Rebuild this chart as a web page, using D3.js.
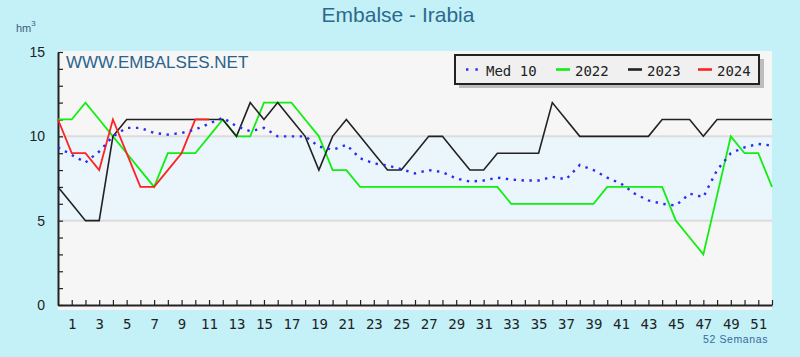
<!DOCTYPE html>
<html><head><meta charset="utf-8">
<script src="https://cdn.jsdelivr.net/npm/d3@7"></script>
<style>
html,body{margin:0;padding:0;background:#c4f0f7;}
svg{display:block;}
</style></head>
<body>
<svg id="chart" width="800" height="357"></svg>
<script>
// ---- data ----
const weeks = d3.range(0, 53);
const med10 = [9.35,8.9,8.45,9.1,10.0,10.5,10.5,10.2,10.1,10.2,10.4,10.75,11.1,10.6,10.3,10.5,10.0,10.0,10.0,9.4,9.2,9.5,8.7,8.4,8.27,8.05,7.8,8.0,7.88,7.5,7.32,7.38,7.55,7.44,7.38,7.38,7.6,7.45,8.3,8.0,7.55,7.2,6.6,6.2,6.0,5.9,6.6,6.4,8.0,9.0,9.35,9.55,9.45];
const s2022 = [11,11,12,11,10,9,8,7,9,9,9,10,11,10,10,12,12,12,11,10,8,8,7,7,7,7,7,7,7,7,7,7,7,6,6,6,6,6,6,6,7,7,7,7,7,5,4,3,6.5,10,9,9,7];
const s2023 = [7,6,5,5,10,11,11,11,11,11,11,11,11,10,12,11,12,11,10,8,10,11,10,9,8,8,9,10,10,9,8,8,9,9,9,9,12,11,10,10,10,10,10,10,11,11,11,10,11,11,11,11,11];
const s2024 = [11,9,9,8,11,9,7,7,8,9,11,11];
const yTicks = d3.range(0, 16);
const yLabels = [0, 5, 10, 15];
const xTicks = d3.range(1, 53);
const xLabels = d3.range(1, 52, 2);
const seriesNames = ["Med 10", "2022", "2023", "2024"];

const svg = d3.select("#chart");
const x = d3.scaleLinear().domain([0, 52]).range([58, 772]);
const y = d3.scaleLinear().domain([0, 15]).range([305, 52]);

// plot background
svg.append("rect").attr("x", x(0)).attr("y", y(15) - 1).attr("width", x(52) - x(0)).attr("height", y(0) - y(15) + 6).attr("fill", "#f6f6f6");
svg.append("rect").attr("x", x(0)).attr("y", y(10)).attr("width", x(52) - x(0)).attr("height", y(5) - y(10)).attr("fill", "#eaf5fc");
[5, 10].forEach(v => {
  svg.append("line").attr("x1", x(0)).attr("x2", x(52)).attr("y1", y(v)).attr("y2", y(v)).attr("stroke", "#dcdcdc").attr("stroke-width", 2);
});

// title & labels
svg.append("text").attr("x", 398).attr("y", 22).attr("text-anchor", "middle")
  .attr("font-family", "Liberation Sans, Arial, sans-serif").attr("font-size", 21).attr("fill", "#2b6a8c").text("Embalse - Irabia");
const hm = svg.append("text").attr("x", 16).attr("y", 32).attr("font-family", "Liberation Sans, Arial, sans-serif").attr("font-size", 11).attr("fill", "#3a5f80");
hm.append("tspan").text("hm");
hm.append("tspan").attr("font-size", 8).attr("dy", -6).text("3");
svg.append("text").attr("x", 66).attr("y", 68).attr("font-family", "Liberation Sans, Arial, sans-serif").attr("font-size", 17).attr("fill", "#2a628c").text("WWW.EMBALSES.NET");
svg.append("text").attr("x", 768).attr("y", 343).attr("text-anchor", "end").attr("font-family", "Liberation Sans, Arial, sans-serif").attr("font-size", 10.5).attr("letter-spacing", 0.6).attr("fill", "#3a6a9a").text("52 Semanas");

// axes
const yAxis = d3.axisLeft(y).tickValues(yTicks).tickSizeInner(-5).tickSizeOuter(0).tickPadding(13)
  .tickFormat(d => yLabels.includes(d) ? d : "");
const gy = svg.append("g").attr("transform", `translate(${x(0)},0)`).call(yAxis);
gy.selectAll("text").attr("font-family", "Liberation Sans, Arial, sans-serif").attr("font-size", 14).attr("fill", "#222");

const xAxis = d3.axisBottom(x).tickValues(xTicks).tickSizeInner(-5).tickSizeOuter(0).tickPadding(14)
  .tickFormat(d => xLabels.includes(d) ? d : "");
const gx = svg.append("g").attr("transform", `translate(0,${y(0)})`).call(xAxis);
gx.selectAll("text").attr("font-family", "DejaVu Sans Mono, monospace").attr("font-size", 14).attr("fill", "#222");
[gx, gy].forEach(g => {
  g.select(".domain").attr("stroke", "#222").attr("stroke-width", 2);
  g.selectAll(".tick line").attr("stroke", "#222").attr("stroke-width", 1.2);
});

// lines
const line = d3.line().x((d, i) => x(weeks[i])).y(d => y(d));
svg.append("path").datum(s2022).attr("d", line).attr("fill", "none").attr("stroke", "#11ee11").attr("stroke-width", 1.8);
svg.append("path").datum(s2023).attr("d", line).attr("fill", "none").attr("stroke", "#222").attr("stroke-width", 1.6);
svg.append("path").datum(s2024).attr("d", line).attr("fill", "none").attr("stroke", "#ff2222").attr("stroke-width", 1.8);
svg.append("path").datum(med10).attr("d", line).attr("fill", "none").attr("stroke", "#2b2bf0").attr("stroke-width", 2.4).attr("stroke-dasharray", "2.4,5.5");

// legend
const lg = svg.append("g");
lg.append("rect").attr("x", 459).attr("y", 59).attr("width", 305).attr("height", 29).attr("fill", "#bdbdbd");
lg.append("rect").attr("x", 455).attr("y", 55).attr("width", 304).attr("height", 29).attr("fill", "#f0f0f0").attr("stroke", "#222").attr("stroke-width", 2);
const legendItems = [
  {name: seriesNames[0], color: "#2b2bf0", x0: 466, x1: 481, tx: 486, dash: "2.4,7"},
  {name: seriesNames[1], color: "#11ee11", x0: 556, x1: 570, tx: 575, dash: null},
  {name: seriesNames[2], color: "#222", x0: 628, x1: 642, tx: 647, dash: null},
  {name: seriesNames[3], color: "#ff2222", x0: 698, x1: 712, tx: 717, dash: null}
];
legendItems.forEach(it => {
  const l = lg.append("line").attr("x1", it.x0).attr("x2", it.x1).attr("y1", 69.5).attr("y2", 69.5).attr("stroke", it.color).attr("stroke-width", it.dash ? 2.4 : 2.6);
  if (it.dash) l.attr("stroke-dasharray", it.dash);
  lg.append("text").attr("x", it.tx).attr("y", 75.5).attr("font-family", "DejaVu Sans Mono, monospace").attr("font-size", 14).attr("fill", "#222").text(it.name);
});
</script>
</body></html>
